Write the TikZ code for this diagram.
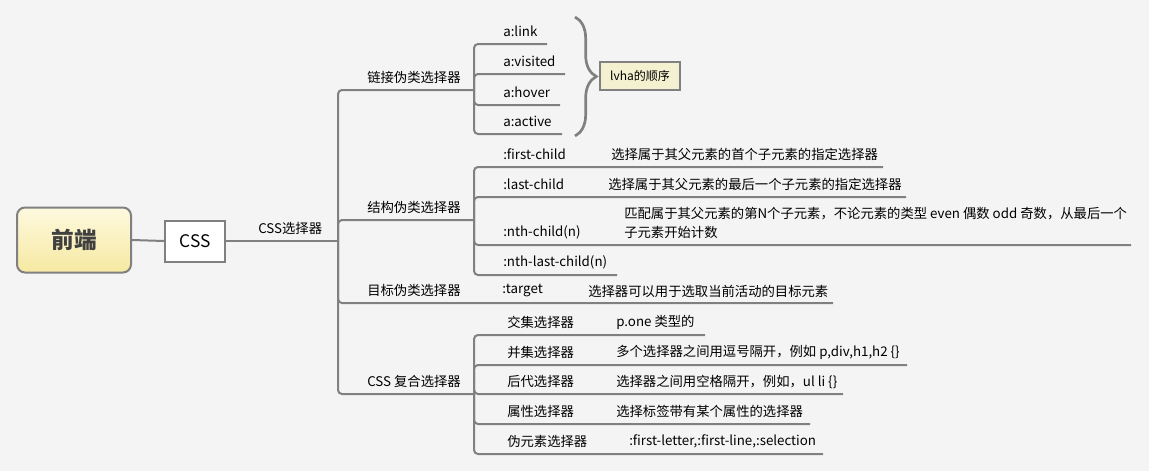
\documentclass[tikz,border=0pt]{standalone}
\usepackage{fontspec}
\setmainfont{Noto Sans CJK SC}
\usetikzlibrary{decorations.pathreplacing}
\definecolor{bg}{HTML}{F4F4F4}
\definecolor{linegray}{HTML}{808080}
\definecolor{rootTop}{HTML}{FDF9DE}
\definecolor{rootBot}{HTML}{F6E9A2}
\definecolor{noteFill}{HTML}{F3F1D0}

\begin{document}
\begin{tikzpicture}[x=0.75pt,y=-0.75pt,
  ln/.style={draw=linegray,line width=1.5pt,rounded corners=3pt},
  txt/.style={anchor=west,inner sep=0pt,font=\fontsize{10}{14.25}\selectfont},
  box/.style={draw=linegray,line width=1.5pt}]
\fill[bg] (0,0) rectangle (1149,471);
\useasboundingbox (0,0) rectangle (1149,471);
% root and first topic
\node[box,rounded corners=6pt,top color=rootTop,bottom color=rootBot,
  minimum width=85.5pt,minimum height=48.75pt,text=black!75,
  font=\fontsize{17}{20}\selectfont\bfseries] (root) at (74,240) {前端};
\node[box,fill=white,minimum width=45pt,minimum height=30.75pt,
  font=\fontsize{13}{15}\selectfont] (css) at (195,241) {CSS};
\draw[ln] (root.east) -- (css.west);
\coordinate (hub) at (338,241);
\draw[ln] (css.east) -- (hub);
\node[txt] (sel) at (258,228) {CSS选择器};
% selector groups
\foreach \n/\t/\y/\e in {lnk/链接伪类选择器/90/474,str/结构伪类选择器/220/474,
    tgt/目标伪类选择器/303/833,cmb/CSS 复合选择器/394/474}{
  \node[txt] (\n) at (367,\y-12.5) {\t};
  \draw[ln] (hub) |- (\e,\y);
}
% link pseudo classes
\coordinate (lnkj) at (474,90);
\foreach \t/\y/\e [count=\i] in {a:link/44/547,a:visited/74/565,a:hover/105/560,a:active/134/562}{
  \node[txt] (a\i) at (503,\y-12.5) {\t};
  \draw[ln] (lnkj) |- (\e,\y);
}
\draw[linegray,line width=2pt,decorate,decoration={brace,amplitude=16pt}] (575,17) -- (575,136);
\node[box,fill=noteFill,minimum width=60pt,minimum height=21pt,
  font=\fontsize{9}{11}\selectfont] (order) at (640,76) {lvha的顺序};
% structural pseudo classes
\coordinate (strj) at (474,220);
\foreach \t/\y/\e [count=\i] in {:first-child/167/883,:last-child/197/906,
    :nth-child(n)/245/1131,:nth-last-child(n)/275/617}{
  \node[txt] (s\i) at (503,\y-12.5) {\t};
  \draw[ln] (strj) |- (\e,\y);
}
\node[txt] (sd1) at (611,154) {选择属于其父元素的首个子元素的指定选择器};
\node[txt] (sd2) at (608,184) {选择属于其父元素的最后一个子元素的指定选择器};
\node[txt,align=left] (sd3) at (624,222.5) {匹配属于其父元素的第N个子元素，不论元素的类型 even 偶数 odd 奇数，从最后一个\\子元素开始计数};
% target
\node[txt] (tg1) at (502,291) {:target};
\node[txt] (tg2) at (588,291) {选择器可以用于选取当前活动的目标元素};
% combinators
\coordinate (cmbj) at (474,394);
\foreach \t/\y/\e/\d/\dx [count=\i] in {交集选择器/335/705/p.one 类型的/616,
    并集选择器/365/907/{多个选择器之间用逗号隔开，例如 p,div,h1,h2 \{\}}/616,
    后代选择器/394/843/选择器之间用空格隔开，例如，ul li \{\}/616,
    属性选择器/424/810/选择标签带有某个属性的选择器/616,
    伪元素选择器/454/823/{:first-letter,:first-line,:selection}/629}{
  \node[txt] (c\i) at (507,\y-12.5) {\t};
  \node[txt] (cd\i) at (\dx,\y-12.5) {\d};
  \draw[ln] (cmbj) |- (\e,\y);
}
\end{tikzpicture}
\end{document}
